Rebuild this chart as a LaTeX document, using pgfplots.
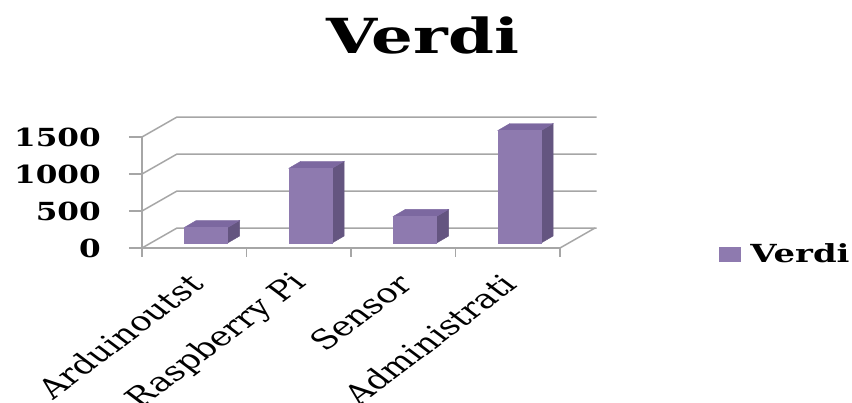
\documentclass[border=0pt]{standalone}
\usepackage{pgfplots}
\pgfplotsset{compat=1.18}
\usepackage{pgfplotstable}
\usepackage{fontspec}
\setmainfont{DejaVu Serif}
\newfontfamily\bfs[FakeStretch=1.25]{DejaVu Serif Bold}
\newfontfamily\bfw[FakeStretch=1.36]{DejaVu Serif Bold}
\definecolor{barfront}{HTML}{8E7AAF}
\definecolor{barside}{HTML}{645580}
\definecolor{bartop}{HTML}{7C68A0}
\definecolor{gridgray}{HTML}{A6A6A6}
\pgfdeclareplotmark{emptymark}{}
\pgfplotstableread{
x v
1 210
2 1010
3 360
4 1520
}\datatable
\begin{document}
\begin{tikzpicture}
\useasboundingbox (0,0) rectangle (852bp,403bp);
\begin{axis}[
  at={(142bp,155bp)}, anchor=south west,
  x=104.5bp, y=0.074bp,
  xmin=0.5, xmax=4.5, ymin=0, ymax=1500,
  clip=false,
  axis x line*=bottom, axis y line*=left,
  axis line style={draw=gridgray, line width=1.5bp},
  xtick={1,2,3,4},
  xticklabels={Arduinoutst,Raspberry Pi,Sensor,Administrati},
  xtick style={draw=none},
  xticklabel style={anchor=east, inner sep=0pt, yshift=-18bp, xshift=2bp, xscale=1.33, rotate=45, font=\fontsize{27}{27}\selectfont},
  ytick={0,500,1000,1500},
  yticklabels={0,500,1000,1500},
  ytick style={draw=gridgray, line width=1.5bp},
  tick align=outside,
  major tick length=13bp,
  yticklabel style={anchor=east, inner sep=0pt, xshift=-28bp, font=\bfs\fontsize{25}{25}\selectfont},
  title={Verdi},
  title style={font=\bfw\fontsize{48.5}{50}\selectfont, at={(axis description cs:0.672,1.694)}, anchor=base, inner sep=0pt},
  legend style={at={(axis description cs:1.380,-0.054)}, anchor=west, draw=none, fill=none, inner sep=0pt, column sep=8bp, font=\bfw\fontsize{25}{25}\selectfont},
  legend cell align=left,
]
% left wall and back wall
\draw[gridgray, line width=1.5bp] (axis cs:0.5,0) -- (axis cs:0.835,270) -- (axis cs:4.85,270);
\draw[gridgray, line width=1.5bp] (axis cs:0.5,500) -- (axis cs:0.835,770) -- (axis cs:4.85,770);
\draw[gridgray, line width=1.5bp] (axis cs:0.5,1000) -- (axis cs:0.835,1270) -- (axis cs:4.85,1270);
\draw[gridgray, line width=1.5bp] (axis cs:0.5,1500) -- (axis cs:0.835,1770) -- (axis cs:4.85,1770);
% floor right edge
\draw[gridgray, line width=1.5bp] (axis cs:4.5,0) -- (axis cs:4.835,270);
% category boundary ticks
\draw[gridgray, line width=1.5bp] (axis cs:0.5,0) -- ++(0bp,-9bp);
\draw[gridgray, line width=1.5bp] (axis cs:1.5,0) -- ++(0bp,-9bp);
\draw[gridgray, line width=1.5bp] (axis cs:2.5,0) -- ++(0bp,-9bp);
\draw[gridgray, line width=1.5bp] (axis cs:3.5,0) -- ++(0bp,-9bp);
\draw[gridgray, line width=1.5bp] (axis cs:4.5,0) -- ++(0bp,-9bp);
\addplot[scatter, only marks, mark=emptymark,
  visualization depends on={rawy \as \val},
  scatter/@pre marker code/.code={%
    \pgfmathsetmacro\B{5-\val*0.074}%
    \fill[barside] (33.4bp,\B bp) -- (45.4bp,\B bp+7bp) -- (45.4bp,12bp) -- (33.4bp,5bp) -- cycle;
    \fill[bartop] (-9.9bp,5bp) -- (33.4bp,5bp) -- (45.4bp,12bp) -- (2.1bp,12bp) -- cycle;
    \fill[barfront] (-9.9bp,\B bp) rectangle (33.4bp,5bp);
  },
  scatter/@post marker code/.code={},
  legend image code/.code={\fill[barfront] (0bp,-7bp) rectangle (21bp,7bp);},
] table[x=x, y=v] {\datatable};
\addlegendentry{Verdi}
\end{axis}
\end{tikzpicture}
\end{document}
